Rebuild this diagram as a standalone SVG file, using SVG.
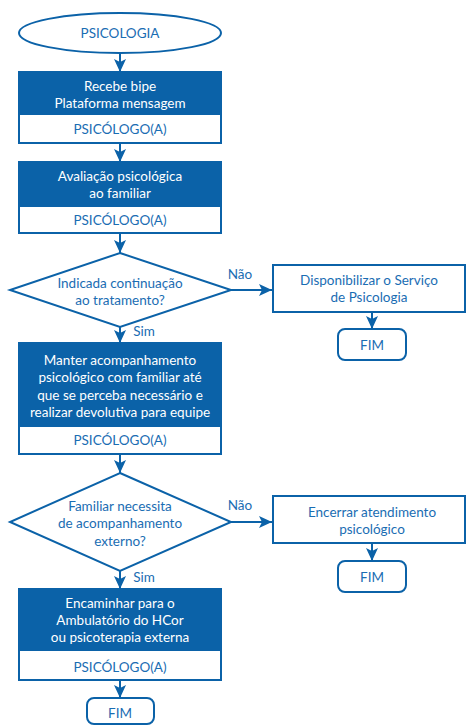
<svg xmlns="http://www.w3.org/2000/svg" width="466" height="726" viewBox="0 0 466 726">
<style>
.shape{fill:#fff;stroke:#0b62a8;stroke-width:2}
.band{fill:#0b62a8}
.wt{fill:#fff;font-family:Lato,"Open Sans","Liberation Sans",sans-serif;font-size:13.5px;text-anchor:middle;dominant-baseline:central}
.bt{fill:#1a6db3;font-family:Lato,"Open Sans","Liberation Sans",sans-serif;font-size:13.5px;text-anchor:middle;dominant-baseline:central}
.conn{stroke:#0b62a8;stroke-width:2;fill:none;marker-end:url(#ah)}
</style>
<defs>
<marker id="ah" markerUnits="userSpaceOnUse" markerWidth="14" markerHeight="14" viewBox="-13 -7 14 14" refX="0" refY="0" orient="auto" overflow="visible">
<path d="M-13,-6 L0,0 L-13,6 L-10,0 Z" fill="#0b62a8"/>
</marker>
</defs>
<rect width="466" height="726" fill="#fff"/>
<g id="connectors">
<line class="conn" x1="120" y1="53" x2="120" y2="72"/>
<line class="conn" x1="120" y1="143" x2="120" y2="162"/>
<line class="conn" x1="120" y1="233" x2="120" y2="253"/>
<line class="conn" x1="231" y1="290" x2="272" y2="290"/>
<line class="conn" x1="372" y1="312" x2="372" y2="329"/>
<line class="conn" x1="120" y1="327" x2="120" y2="343"/>
<line class="conn" x1="120" y1="454" x2="120" y2="473"/>
<line class="conn" x1="231" y1="522" x2="272" y2="522"/>
<line class="conn" x1="372" y1="543" x2="372" y2="561"/>
<line class="conn" x1="120" y1="571" x2="120" y2="589"/>
<line class="conn" x1="120" y1="680" x2="120" y2="698"/>
<text class="bt" x="240" y="274">Não</text>
<text class="bt" x="144" y="331">Sim</text>
<text class="bt" x="240" y="505">Não</text>
<text class="bt" x="144" y="577">Sim</text>
</g>
<g id="start">
<ellipse class="shape" cx="120" cy="33" rx="101" ry="20"/>
<text class="bt" x="120" y="33">PSICOLOGIA</text>
</g>
<g id="recebe">
<rect class="shape" x="19" y="72" width="202" height="71"/>
<rect class="band" x="18" y="71" width="204" height="44"/>
<text class="wt" x="120" y="86">Recebe bipe</text>
<text class="wt" x="120" y="103">Plataforma mensagem</text>
<text class="bt" x="120" y="129">PSICÓLOGO(A)</text>
</g>
<g id="avaliacao">
<rect class="shape" x="19" y="162" width="202" height="71"/>
<rect class="band" x="18" y="161" width="204" height="46"/>
<text class="wt" x="120" y="176">Avaliação psicológica</text>
<text class="wt" x="120" y="193">ao familiar</text>
<text class="bt" x="120" y="220">PSICÓLOGO(A)</text>
</g>
<g id="decisao1">
<polygon class="shape" points="120,253 231,290 120,327 10,290"/>
<text class="bt" x="120" y="283">Indicada continuação</text>
<text class="bt" x="120" y="300">ao tratamento?</text>
</g>
<g id="disponibilizar">
<rect class="shape" x="273" y="265" width="192" height="47"/>
<text class="bt" x="369" y="280">Disponibilizar o Serviço</text>
<text class="bt" x="369" y="297">de Psicologia</text>
</g>
<g id="fim1">
<rect class="shape" x="338" y="329" width="68" height="31" rx="7"/>
<text class="bt" x="372" y="345">FIM</text>
</g>
<g id="manter">
<rect class="shape" x="19" y="343" width="202" height="111"/>
<rect class="band" x="18" y="342" width="204" height="85"/>
<text class="wt" x="120" y="360">Manter acompanhamento</text>
<text class="wt" x="120" y="377">psicológico com familiar até</text>
<text class="wt" x="120" y="395">que se perceba necessário e</text>
<text class="wt" x="120" y="412">realizar devolutiva para equipe</text>
<text class="bt" x="120" y="440">PSICÓLOGO(A)</text>
</g>
<g id="decisao2">
<polygon class="shape" points="120,473 231,522 120,571 10,522"/>
<text class="bt" x="120" y="506">Familiar necessita</text>
<text class="bt" x="120" y="523">de acompanhamento</text>
<text class="bt" x="120" y="541">externo?</text>
</g>
<g id="encerrar">
<rect class="shape" x="273" y="496" width="192" height="47"/>
<text class="bt" x="372" y="512">Encerrar atendimento</text>
<text class="bt" x="372" y="529">psicológico</text>
</g>
<g id="fim2">
<rect class="shape" x="338" y="561" width="68" height="31" rx="7"/>
<text class="bt" x="372" y="577">FIM</text>
</g>
<g id="encaminhar">
<rect class="shape" x="19" y="589" width="202" height="91"/>
<rect class="band" x="18" y="588" width="204" height="63"/>
<text class="wt" x="120" y="603">Encaminhar para o</text>
<text class="wt" x="120" y="620">Ambulatório do HCor</text>
<text class="wt" x="120" y="637">ou psicoterapia externa</text>
<text class="bt" x="120" y="667">PSICÓLOGO(A)</text>
</g>
<g id="fim3">
<rect class="shape" x="87" y="698" width="67" height="26" rx="7"/>
<text class="bt" x="120" y="713">FIM</text>
</g>
</svg>
